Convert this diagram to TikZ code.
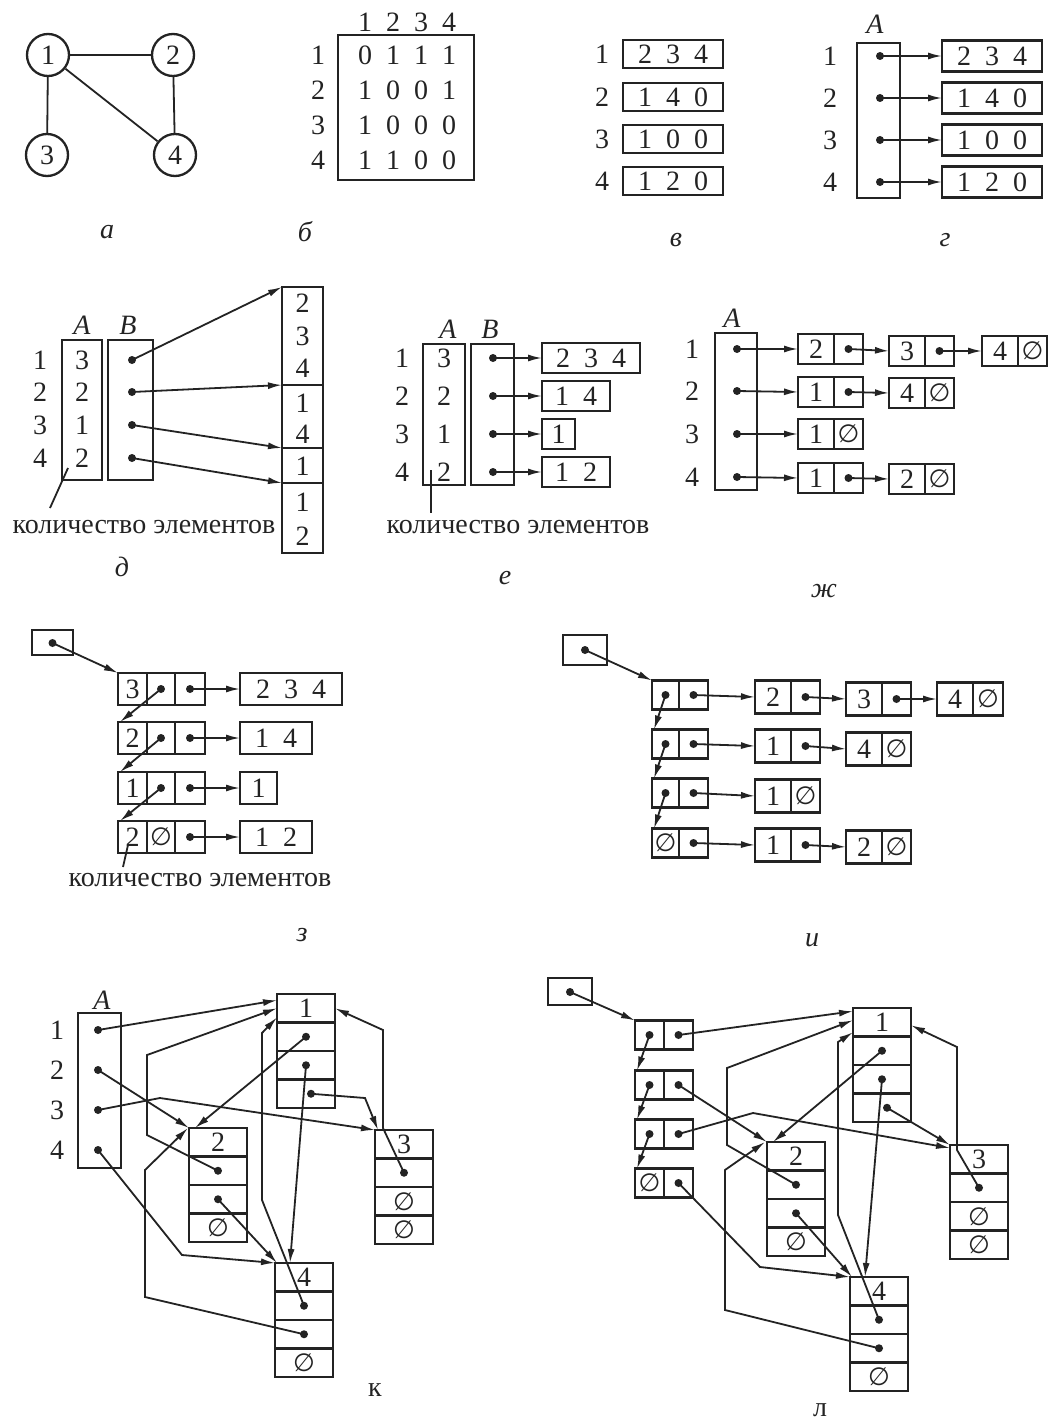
\documentclass[tikz,border=0pt]{standalone}
\usepackage{fontspec}
\setmainfont{Liberation Serif}
\newfontfamily\djv{DejaVu Sans}
\usetikzlibrary{arrows.meta}
\definecolor{ink}{RGB}{35,35,35}
\newcommand\fs{\fontsize{28}{30}\selectfont}
\newcommand\emp{{\djv\fontsize{25}{25}\selectfont ∅}}
\newcommand\gp{\hskip 0.5em\relax}
% name, cx, cy, w, h, content
\newcommand\cell[6]{\node[bx,minimum width=#4pt,minimum height=#5pt] (#1) at (#2,#3) {#6};}
% name, xl, yc, w1, w2, h, c1, c2
\newcommand\pnode[8]{%
 \node[bx,minimum width=#4pt,minimum height=#6pt] (#1-1) at ({#2+#4/2},#3) {#7};
 \node[bx,minimum width=#5pt,minimum height=#6pt] (#1-2) at ({#2+#4+#5/2},#3) {#8};}
% name, xl, yt, c1..c4
\newcommand\vnode[7]{%
 \node[bx,minimum width=58pt,minimum height=28.5pt] (#1-1) at ({#2+29},{#3+14.25}) {#4};
 \node[bx,minimum width=58pt,minimum height=28.5pt] (#1-2) at ({#2+29},{#3+42.75}) {#5};
 \node[bx,minimum width=58pt,minimum height=28.5pt] (#1-3) at ({#2+29},{#3+71.25}) {#6};
 \node[bx,minimum width=58pt,minimum height=28.5pt] (#1-4) at ({#2+29},{#3+99.75}) {#7};}
\begin{document}
\begin{tikzpicture}[x=1pt,y=-1pt,
  every node/.style={font=\fs, text=ink},
  bx/.style={draw=ink, line width=2.3pt, inner sep=0pt, outer sep=0pt},
  ln/.style={draw=ink, line width=1.8pt},
  arr/.style={ln, -{Latex[length=14pt,width=7pt]}},
  dt/.style={circle, fill=ink, inner sep=0pt, minimum size=8pt},
  cn/.style={circle, draw=ink, line width=2.3pt, minimum size=42pt, inner sep=0pt},
  lbl/.style={font=\fs\itshape},
  ulbl/.style={font=\fs}]
\fill[white] (0,0) rectangle (1048,1426);
\useasboundingbox (0,0) rectangle (1048,1426);

% ---------- a ----------
\node[cn] (a1) at (48,55) {1};
\node[cn] (a2) at (173,55) {2};
\node[cn] (a3) at (47,155) {3};
\node[cn] (a4) at (175,155) {4};
\draw[ln] (a1) -- (a2) (a1) -- (a3) (a1) -- (a4) (a2) -- (a4);
\node[lbl] (la) at (107,232) {а};

% ---------- b ----------
\node[bx,minimum width=136pt,minimum height=145pt] (mb) at (406,107.5) {};
\foreach \i in {1,...,4} {\node (bh\i) at ({337+28*\i},22) {\i};}
\foreach \i/\y/\p/\q/\r/\s in {1/55/0/1/1/1, 2/90/1/0/0/1, 3/125/1/0/0/0, 4/160/1/1/0/0} {
  \node (br\i) at (318,\y) {\i};
  \node (bm\i-1) at (365,\y) {\p};
  \node (bm\i-2) at (393,\y) {\q};
  \node (bm\i-3) at (421,\y) {\r};
  \node (bm\i-4) at (449,\y) {\s};
}
\node[lbl] (lb) at (305,232) {б};

% ---------- v ----------
\node (vr1) at (602,54) {1}; \cell{vb1}{673}{54}{100}{28}{2\gp 3\gp 4}
\node (vr2) at (602,97) {2}; \cell{vb2}{673}{97}{100}{28}{1\gp 4\gp 0}
\node (vr3) at (602,139) {3}; \cell{vb3}{673}{139}{100}{28}{1\gp 0\gp 0}
\node (vr4) at (602,181) {4}; \cell{vb4}{673}{181}{100}{28}{1\gp 2\gp 0}
\node[lbl] (lv) at (676,240) {в};

% ---------- g ----------
\node[lbl] (gA) at (875,24) {A};
\cell{gAb}{878.5}{120.5}{43}{155}{}
\node (gr1) at (830,56) {1}; \node[dt] (gd1) at (880,56) {}; \cell{gb1}{992}{56}{100}{31}{2\gp 3\gp 4}
\node (gr2) at (830,98) {2}; \node[dt] (gd2) at (880,98) {}; \cell{gb2}{992}{98}{100}{31}{1\gp 4\gp 0}
\node (gr3) at (830,140) {3}; \node[dt] (gd3) at (880,140) {}; \cell{gb3}{992}{140}{100}{31}{1\gp 0\gp 0}
\node (gr4) at (830,182) {4}; \node[dt] (gd4) at (880,182) {}; \cell{gb4}{992}{182}{100}{31}{1\gp 2\gp 0}
\foreach \i in {1,...,4} {\draw[arr] (gd\i.center) -- (gb\i.west);}
\node[lbl] (lg) at (945,240) {г};

% ---------- d ----------
\node[lbl] (dA) at (82,325) {A};
\node[lbl] (dB) at (128,325) {B};
\cell{dAb}{82}{410}{40}{140}{}
\cell{dBb}{130.5}{410}{45}{140}{}
\foreach \i/\y/\n in {1/360/3, 2/392/2, 3/425/1, 4/458/2} {
  \node (dr\i) at (40,\y) {\i};
  \node (dv\i) at (82,\y) {\n};
  \node[dt] (dd\i) at (132,\y) {};
}
\cell{ds1}{302.5}{336}{41}{98}{}
\cell{ds2}{302.5}{416.5}{41}{63}{}
\cell{ds3}{302.5}{465.5}{41}{35}{}
\cell{ds4}{302.5}{518}{41}{70}{}
\node (dc1) at (302.5,303) {2};
\node (dc2) at (302.5,336) {3};
\node (dc3) at (302.5,368) {4};
\node (dc4) at (302.5,403) {1};
\node (dc5) at (302.5,434) {4};
\node (dc6) at (302.5,466) {1};
\node (dc7) at (302.5,502) {1};
\node (dc8) at (302.5,536) {2};
\foreach \i in {1,...,4} {\draw[arr] (dd\i.center) -- (ds\i.north west);}
\coordinate (dl1) at (68,468);
\node (dtxt) at (144,527) {количество элементов};
\coordinate (dl2) at (50,508);
\draw[ln] (dl1) -- (dl2);
\node[lbl] (ld) at (122,567) {д};

% ---------- e ----------
\node[lbl] (eA) at (448,329) {A};
\node[lbl] (eB) at (490,329) {B};
\cell{eAb}{444}{414.5}{42}{141}{}
\cell{eBb}{492.5}{414.5}{43}{141}{}
\foreach \i/\y/\n in {1/358/3, 2/396/2, 3/434/1, 4/472/2} {
  \node (er\i) at (402,\y) {\i};
  \node (ev\i) at (444,\y) {\n};
  \node[dt] (ed\i) at (493,\y) {};
}
\cell{eb1}{591}{358}{98}{30}{2\gp 3\gp 4}
\cell{eb2}{576}{396}{68}{30}{1\gp 4}
\cell{eb3}{558.5}{434}{33}{30}{1}
\cell{eb4}{576}{472}{68}{30}{1\gp 2}
\foreach \i in {1,...,4} {\draw[arr] (ed\i.center) -- (eb\i.west);}
\coordinate (el1) at (431,470);
\coordinate (el2) at (431,513);
\draw[ln] (el1) -- (el2);
\node (etxt) at (518,527) {количество элементов};
\node[lbl] (le) at (505,578) {е};

% ---------- zh ----------
\node[lbl] (zA) at (732,318) {A};
\cell{zAb}{736}{411.5}{42}{157}{}
\foreach \i/\y in {1/349, 2/391, 3/434, 4/477} {
  \node (zr\i) at (692,\y) {\i};
  \node[dt] (zd\i) at (737,\y) {};
}
\pnode{z11}{798}{349}{36}{29}{30}{2}{}
\pnode{z12}{889}{351}{36}{29}{30}{3}{}
\pnode{z13}{982}{351}{36}{29}{30}{4}{\emp}
\pnode{z21}{798}{392}{36}{29}{30}{1}{}
\pnode{z22}{889}{393}{36}{29}{30}{4}{\emp}
\pnode{z31}{798}{434}{36}{29}{30}{1}{\emp}
\pnode{z41}{798}{478}{36}{29}{30}{1}{}
\pnode{z42}{889}{479}{36}{29}{30}{2}{\emp}
\foreach \i in {1,...,4} {\draw[arr] (zd\i.center) -- (z\i1-1.west);}
\foreach \n in {z11,z12,z21,z41} {\node[dt] (\n d) at (\n-2) {};}
\draw[arr] (z11d.center) -- (z12-1.west);
\draw[arr] (z12d.center) -- (z13-1.west);
\draw[arr] (z21d.center) -- (z22-1.west);
\draw[arr] (z41d.center) -- (z42-1.west);
\node[lbl] (lzh) at (824,591) {ж};

% ---------- z ----------
\cell{sh}{52.5}{642.5}{41}{25}{}
\node[dt] (shd) at (52.5,643) {};
\foreach \i/\y/\n in {1/689/3, 2/738/2, 3/788/1, 4/837/2} {
  \cell{s\i-1}{132.5}{\y}{29}{32}{\n}
  \cell{s\i-2}{161}{\y}{28}{32}{}
  \cell{s\i-3}{190}{\y}{30}{32}{}
  \node[dt] (sd\i) at (s\i-3) {};
}
\node (s4e) at (s4-2) {\emp};
\foreach \i in {1,2,3} {\node[dt] (sp\i) at (s\i-2) {};}
\cell{sr1}{291}{689}{102}{32}{2\gp 3\gp 4}
\cell{sr2}{276}{738}{72}{32}{1\gp 4}
\cell{sr3}{258.5}{788}{37}{32}{1}
\cell{sr4}{276}{837}{72}{32}{1\gp 2}
\draw[arr] (shd.center) -- (s1-1.north west);
\draw[arr] (sp1.center) -- ([xshift=2pt]s2-1.north west);
\draw[arr] (sp2.center) -- ([xshift=2pt]s3-1.north west);
\draw[arr] (sp3.center) -- ([xshift=2pt]s4-1.north west);
\foreach \i in {1,...,4} {\draw[arr] (sd\i.center) -- (sr\i.west);}
\coordinate (sl1) at (128,845);
\coordinate (sl2) at (123,867);
\draw[ln] (sl1) -- (sl2);
\node (stxt) at (200,880) {количество элементов};
\node[lbl] (lz) at (302,935) {з};

% ---------- i ----------
\cell{ih}{585}{650}{44}{30}{}
\node[dt] (ihd) at (585,650) {};
\foreach \i/\y in {1/695, 2/744, 3/793, 4/843} {
  \pnode{ic\i}{652}{\y}{27}{29}{29}{}{}
  \node[dt] (iq\i) at (ic\i-2) {};
}
\foreach \i in {1,2,3} {\node[dt] (ip\i) at (ic\i-1) {};}
\node (ic4e) at (ic4-1) {\emp};
\pnode{i11}{755}{697}{36}{29}{33}{2}{}
\pnode{i12}{846}{699}{36}{29}{33}{3}{}
\pnode{i13}{937}{699}{36}{30}{33}{4}{\emp}
\pnode{i21}{755}{746}{36}{29}{33}{1}{}
\pnode{i22}{846}{749}{36}{29}{33}{4}{\emp}
\pnode{i31}{755}{796}{36}{29}{33}{1}{\emp}
\pnode{i41}{755}{845}{36}{29}{33}{1}{}
\pnode{i42}{846}{847}{36}{29}{33}{2}{\emp}
\foreach \n in {i11,i12,i21,i41} {\node[dt] (\n d) at (\n-2) {};}
\draw[arr] (ihd.center) -- (ic1-1.north west);
\draw[arr] (ip1.center) -- ([xshift=2pt]ic2-1.north west);
\draw[arr] (ip2.center) -- ([xshift=2pt]ic3-1.north west);
\draw[arr] (ip3.center) -- ([xshift=2pt]ic4-1.north west);
\foreach \i in {1,...,4} {\draw[arr] (iq\i.center) -- (i\i1-1.west);}
\draw[arr] (i11d.center) -- (i12-1.west);
\draw[arr] (i12d.center) -- (i13-1.west);
\draw[arr] (i21d.center) -- (i22-1.west);
\draw[arr] (i41d.center) -- (i42-1.west);
\node[lbl] (li) at (812,940) {и};

% ---------- k ----------
\node[lbl] (kA) at (102,1000) {A};
\cell{kAb}{99.5}{1090.5}{43}{155}{}
\foreach \i/\y in {1/1030, 2/1070, 3/1110, 4/1150} {
  \node (kr\i) at (57,\y) {\i};
  \node[dt] (kd\i) at (98,\y) {};
}
\vnode{k1}{277}{994}{1}{}{}{}
\vnode{k2}{189}{1128}{2}{}{}{\emp}
\vnode{k3}{375}{1130}{3}{}{\emp}{\emp}
\vnode{k4}{275}{1263}{4}{}{}{\emp}
\node[dt] (k1d2) at (k1-2) {};
\node[dt] (k1d3) at (k1-3) {};
\node[dt] (k1d4) at ([xshift=5pt]k1-4.center) {};
\node[dt] (k2d2) at (k2-2) {};
\node[dt] (k2d3) at (k2-3) {};
\node[dt] (k3d2) at (k3-2) {};
\node[dt] (k4d2) at (k4-2) {};
\node[dt] (k4d3) at (k4-3) {};
\draw[arr] (kd1.center) -- ([yshift=8pt]k1-1.west);
\draw[arr] (kd2.center) -- (k2-1.north west);
\draw[arr] (kd3.center) -- (160,1098) -- (k3-1.north west);
\draw[arr] (kd4.center) -- (182,1255) -- (k4-1.north west);
\draw[arr] (k1d2.center) -- ([xshift=6pt]k2-1.north west);
\draw[arr] (k1d3.center) -- ([xshift=15pt]k4-1.north west);
\draw[arr] (k1d4.center) -- (365,1098) -- ([xshift=3pt]k3-1.north west);
\draw[arr] (k2d2.center) -- (147,1135) -- (147,1055) -- (k1-1.west);
\draw[arr] (k2d3.center) -- ([xshift=2pt]k4-1.north west);
\draw[arr] (k3d2.center) -- (383,1128) -- (383,1030) -- (k1-1.east);
\draw[arr] (k4d2.center) -- (262,1200) -- (262,1033) -- ([yshift=5pt]k1-1.south west);
\draw[arr] (k4d3.center) -- (145,1297) -- (145,1170) -- ([xshift=-1pt]k2-1.north west);
\node[ulbl] (lk) at (375,1390) {к};

% ---------- l ----------
\cell{lh}{570}{991.5}{44}{27}{}
\node[dt] (lhd) at (570,992) {};
\foreach \i/\y in {1/1035, 2/1085, 3/1134, 4/1183} {
  \pnode{lc\i}{635}{\y}{29}{29}{29}{}{}
  \node[dt] (lq\i) at (lc\i-2) {};
}
\foreach \i in {1,2,3} {\node[dt] (lp\i) at (lc\i-1) {};}
\node (lc4e) at (lc4-1) {\emp};
\vnode{l1}{853}{1008}{1}{}{}{}
\vnode{l2}{767}{1142}{2}{}{}{\emp}
\vnode{l3}{950}{1145}{3}{}{\emp}{\emp}
\vnode{l4}{850}{1277}{4}{}{}{\emp}
\node[dt] (l1d2) at (l1-2) {};
\node[dt] (l1d3) at (l1-3) {};
\node[dt] (l1d4) at ([xshift=5pt]l1-4.center) {};
\node[dt] (l2d2) at (l2-2) {};
\node[dt] (l2d3) at (l2-3) {};
\node[dt] (l3d2) at (l3-2) {};
\node[dt] (l4d2) at (l4-2) {};
\node[dt] (l4d3) at (l4-3) {};
\draw[arr] (lhd.center) -- (lc1-1.north west);
\draw[arr] (lp1.center) -- ([xshift=2pt]lc2-1.north west);
\draw[arr] (lp2.center) -- ([xshift=2pt]lc3-1.north west);
\draw[arr] (lp3.center) -- ([xshift=2pt]lc4-1.north west);
\draw[arr] (lq1.center) -- ([yshift=11pt]l1-1.west);
\draw[arr] (lq2.center) -- (l2-1.north west);
\draw[arr] (lq3.center) -- (753,1113) -- ([yshift=-3pt]l3-1.north west);
\draw[arr] (lq4.center) -- (760,1267) -- (l4-1.north west);
\draw[arr] (l1d2.center) -- ([xshift=6pt]l2-1.north west);
\draw[arr] (l1d3.center) -- ([xshift=15pt]l4-1.north west);
\draw[arr] (l1d4.center) -- (l3-1.north west);
\draw[arr] (l2d2.center) -- (727,1145) -- (727,1068) -- ([yshift=2pt]l1-1.west);
\draw[arr] (l2d3.center) -- ([xshift=2pt]l4-1.north west);
\draw[arr] (l3d2.center) -- (957,1150) -- (957,1047) -- ([yshift=-3pt]l1-1.east);
\draw[arr] (l4d2.center) -- (838,1215) -- (838,1042) -- ([yshift=-10pt]l1-1.west);
\draw[arr] (l4d3.center) -- (725,1310) -- (725,1170) -- ([xshift=-2pt]l2-1.north west);
\node[ulbl] (ll) at (820,1410) {л};
\end{tikzpicture}
\end{document}
